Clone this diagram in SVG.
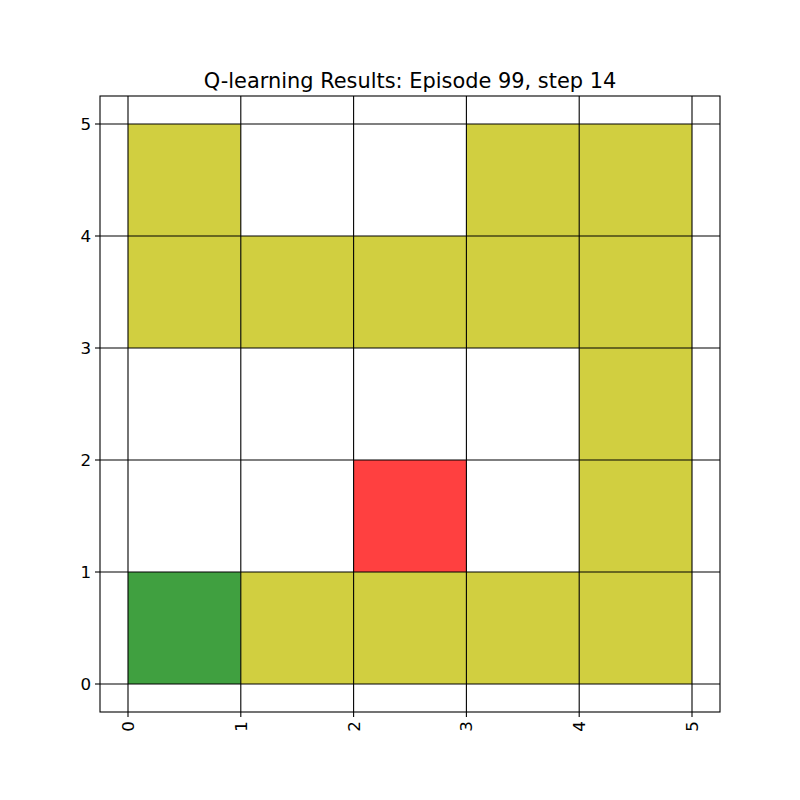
<svg xmlns="http://www.w3.org/2000/svg" width="800" height="800" viewBox="0 0 800 800">
<style>
.y{fill:#d1cf40}.g{fill:#40a040}.r{fill:#ff4040}
.grid line{stroke:#000;stroke-width:1.1}
.tick line{stroke:#000;stroke-width:1.1}
text{font-family:"DejaVu Sans",sans-serif;fill:#000}
.tl{font-size:16.7px}
</style>
<rect width="800" height="800" fill="#fff"/>
<g id="cells">
<rect class="y" x="128" y="124" width="112.8" height="112"/>
<rect class="y" x="466.4" y="124" width="112.8" height="112"/>
<rect class="y" x="579.2" y="124" width="112.8" height="112"/>
<rect class="y" x="128" y="236" width="112.8" height="112"/>
<rect class="y" x="240.8" y="236" width="112.8" height="112"/>
<rect class="y" x="353.6" y="236" width="112.8" height="112"/>
<rect class="y" x="466.4" y="236" width="112.8" height="112"/>
<rect class="y" x="579.2" y="236" width="112.8" height="112"/>
<rect class="y" x="579.2" y="348" width="112.8" height="112"/>
<rect class="r" x="353.6" y="460" width="112.8" height="112"/>
<rect class="y" x="579.2" y="460" width="112.8" height="112"/>
<rect class="g" x="128" y="572" width="112.8" height="112"/>
<rect class="y" x="240.8" y="572" width="112.8" height="112"/>
<rect class="y" x="353.6" y="572" width="112.8" height="112"/>
<rect class="y" x="466.4" y="572" width="112.8" height="112"/>
<rect class="y" x="579.2" y="572" width="112.8" height="112"/>
</g>
<g class="grid" id="grid">
<line x1="128" y1="96" x2="128" y2="712"/>
<line x1="240.8" y1="96" x2="240.8" y2="712"/>
<line x1="353.6" y1="96" x2="353.6" y2="712"/>
<line x1="466.4" y1="96" x2="466.4" y2="712"/>
<line x1="579.2" y1="96" x2="579.2" y2="712"/>
<line x1="692" y1="96" x2="692" y2="712"/>
<line x1="100" y1="124" x2="720" y2="124"/>
<line x1="100" y1="236" x2="720" y2="236"/>
<line x1="100" y1="348" x2="720" y2="348"/>
<line x1="100" y1="460" x2="720" y2="460"/>
<line x1="100" y1="572" x2="720" y2="572"/>
<line x1="100" y1="684" x2="720" y2="684"/>
</g>
<rect id="frame" x="100" y="96" width="620" height="616" fill="none" stroke="#000" stroke-width="1.1"/>
<g class="tick" id="xticks">
<line x1="128" y1="712" x2="128" y2="717"/>
<line x1="240.8" y1="712" x2="240.8" y2="717"/>
<line x1="353.6" y1="712" x2="353.6" y2="717"/>
<line x1="466.4" y1="712" x2="466.4" y2="717"/>
<line x1="579.2" y1="712" x2="579.2" y2="717"/>
<line x1="692" y1="712" x2="692" y2="717"/>
<g class="tl" text-anchor="end" dominant-baseline="central">
<text transform="translate(128,721) rotate(-90)">0</text>
<text transform="translate(240.8,721) rotate(-90)">1</text>
<text transform="translate(353.6,721) rotate(-90)">2</text>
<text transform="translate(466.4,721) rotate(-90)">3</text>
<text transform="translate(579.2,721) rotate(-90)">4</text>
<text transform="translate(692,721) rotate(-90)">5</text>
</g>
</g>
<g class="tick" id="yticks">
<line x1="100" y1="124" x2="95" y2="124"/>
<line x1="100" y1="236" x2="95" y2="236"/>
<line x1="100" y1="348" x2="95" y2="348"/>
<line x1="100" y1="460" x2="95" y2="460"/>
<line x1="100" y1="572" x2="95" y2="572"/>
<line x1="100" y1="684" x2="95" y2="684"/>
<g class="tl" text-anchor="end" dominant-baseline="central">
<text x="91" y="124">5</text>
<text x="91" y="236">4</text>
<text x="91" y="348">3</text>
<text x="91" y="460">2</text>
<text x="91" y="572">1</text>
<text x="91" y="684">0</text>
</g>
</g>
<text id="title" x="410" y="88" text-anchor="middle" font-size="20.9">Q-learning Results: Episode 99, step 14</text>
</svg>
